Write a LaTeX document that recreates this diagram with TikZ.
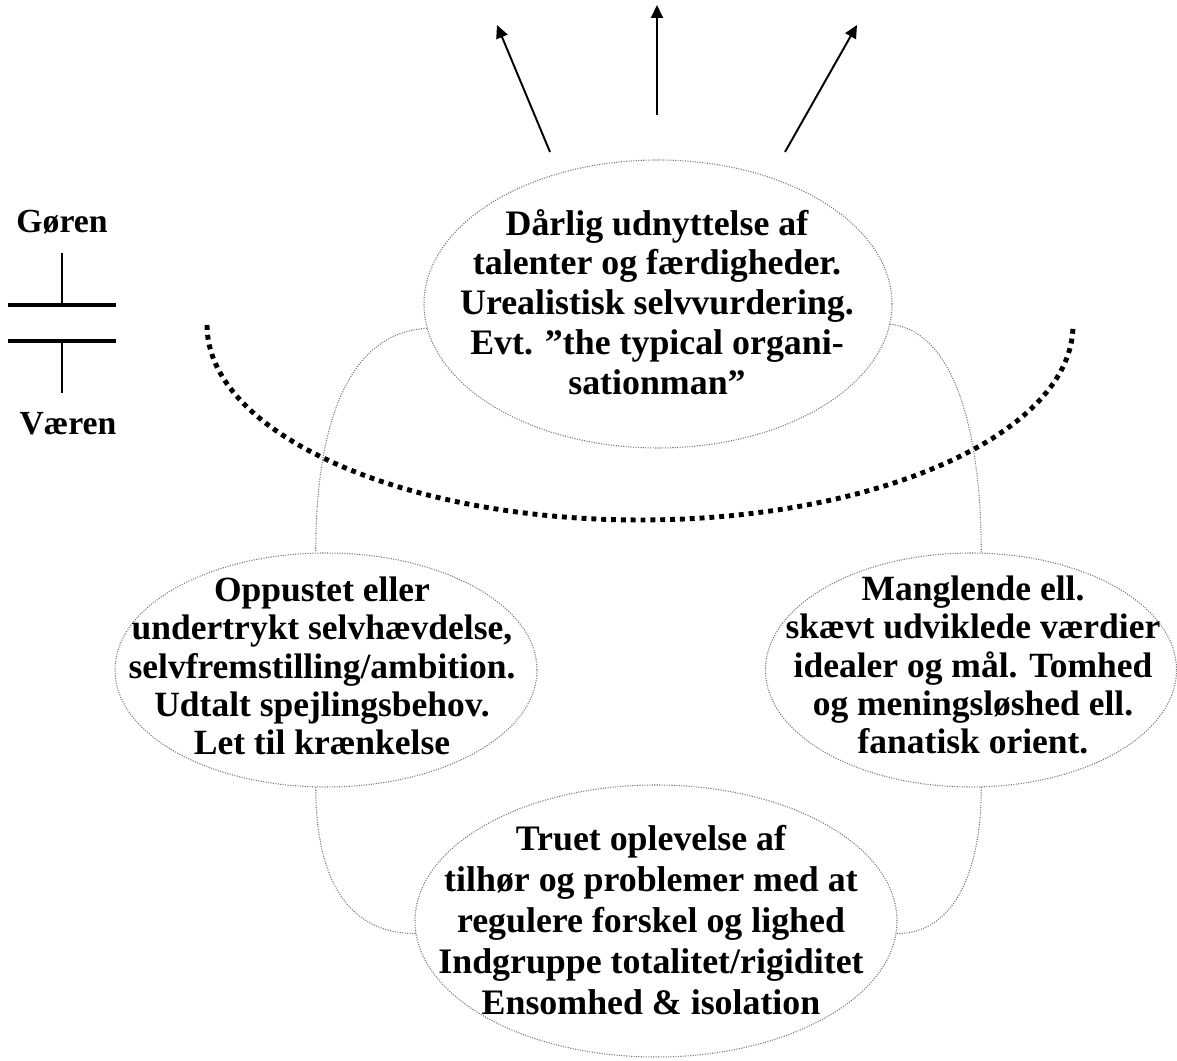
\documentclass[tikz,border=0pt]{standalone}
\usepackage{fontspec}
\setmainfont{Liberation Serif}
\usepackage{tikz}
\usetikzlibrary{arrows.meta,shapes.geometric}

\begin{document}
\begin{tikzpicture}[>={Triangle[length=0.26cm,width=0.24cm]},
  bubble/.style={ellipse,draw=black!55,line width=0.6pt,dash pattern=on 0.6pt off 0.8pt,inner sep=0pt},
  txt/.style={align=center,font=\fontsize{20.4}{22.7}\selectfont\bfseries},
  sidetxt/.style={align=center,font=\fontsize{20.2}{21.8}\selectfont\bfseries},
  side/.style={font=\fontsize{19.2}{22}\selectfont\bfseries},
  link/.style={draw=black!55,line width=0.6pt,dash pattern=on 0.6pt off 0.8pt}]
  \useasboundingbox (0,0) rectangle (23.54,21.22);

  % de fire bobler
  \node[bubble,minimum width=9.36cm,minimum height=5.76cm] (top) at (13.16,15.14) {};
  \node[bubble,minimum width=8.44cm,minimum height=4.68cm] (left) at (6.52,7.82) {};
  \node[bubble,minimum width=8.22cm,minimum height=4.68cm] (right) at (19.42,7.82) {};
  \node[bubble,minimum width=9.64cm,minimum height=5.44cm] (bottom) at (13.12,2.80) {};

  \node[txt] (topText) at (13.14,15.18) {Dårlig udnyttelse af\\talenter og færdigheder.\\Urealistisk selvvurdering.\\Evt. ”the typical organi-\\sationman”};
  \node[sidetxt] (leftText) at (6.44,7.90) {Oppustet eller\\undertrykt selvhævdelse,\\selvfremstilling/ambition.\\Udtalt spejlingsbehov.\\Let til krænkelse};
  \node[sidetxt] (rightText) at (19.46,7.92) {Manglende ell.\\skævt udviklede værdier\\idealer og mål. Tomhed\\og meningsløshed ell.\\fanatisk orient.};
  \node[txt,font=\fontsize{20.4}{23.3}\selectfont\bfseries] (bottomText) at (13.02,2.82) {Truet oplevelse af\\tilhør og problemer med at\\regulere forskel og lighed\\Indgruppe totalitet/rigiditet\\Ensomhed \& isolation};

  % forbindelser
  \draw[link] (top.186) .. controls +(-1.7,-0.1) and +(0,2.3) .. (left.95);
  \draw[link] (top.-5) .. controls +(1.4,-0.15) and +(0,2.1) .. (right.85);
  \draw[link] (left.265) .. controls +(0,-1.6) and +(-1.5,0) .. (bottom.183);
  \draw[link] (right.275) .. controls +(0,-1.6) and +(1.2,0) .. (bottom.-3);

  % grænsen
  \draw[line width=2.8pt,dash pattern=on 2.8pt off 2.8pt] (4.14,14.72) arc[start angle=180,end angle=360,x radius=8.66cm,y radius=3.9cm];

  % pile
  \foreach \n/\a/\b/\c/\d in {l/11.0/18.18/9.94/20.72, m/13.14/18.92/13.14/21.12, r/15.7/18.18/17.14/20.72}{
    \coordinate (tail\n) at (\a,\b);
    \coordinate (head\n) at (\c,\d);
    \draw[->,line width=1.1pt] (tail\n) -- (head\n);
  }

  % gøren / væren
  \node[side] (goren) at (1.24,16.78) {Gøren};
  \node[side] (vaeren) at (1.36,12.74) {Væren};
  \draw[line width=1.1pt] (1.24,16.16) -- (1.24,15.12);
  \draw[line width=2.8pt] (0.16,15.12) -- (2.32,15.12);
  \draw[line width=2.8pt] (0.16,14.40) -- (2.32,14.40);
  \draw[line width=1.1pt] (1.24,14.40) -- (1.24,13.36);
\end{tikzpicture}
\end{document}
